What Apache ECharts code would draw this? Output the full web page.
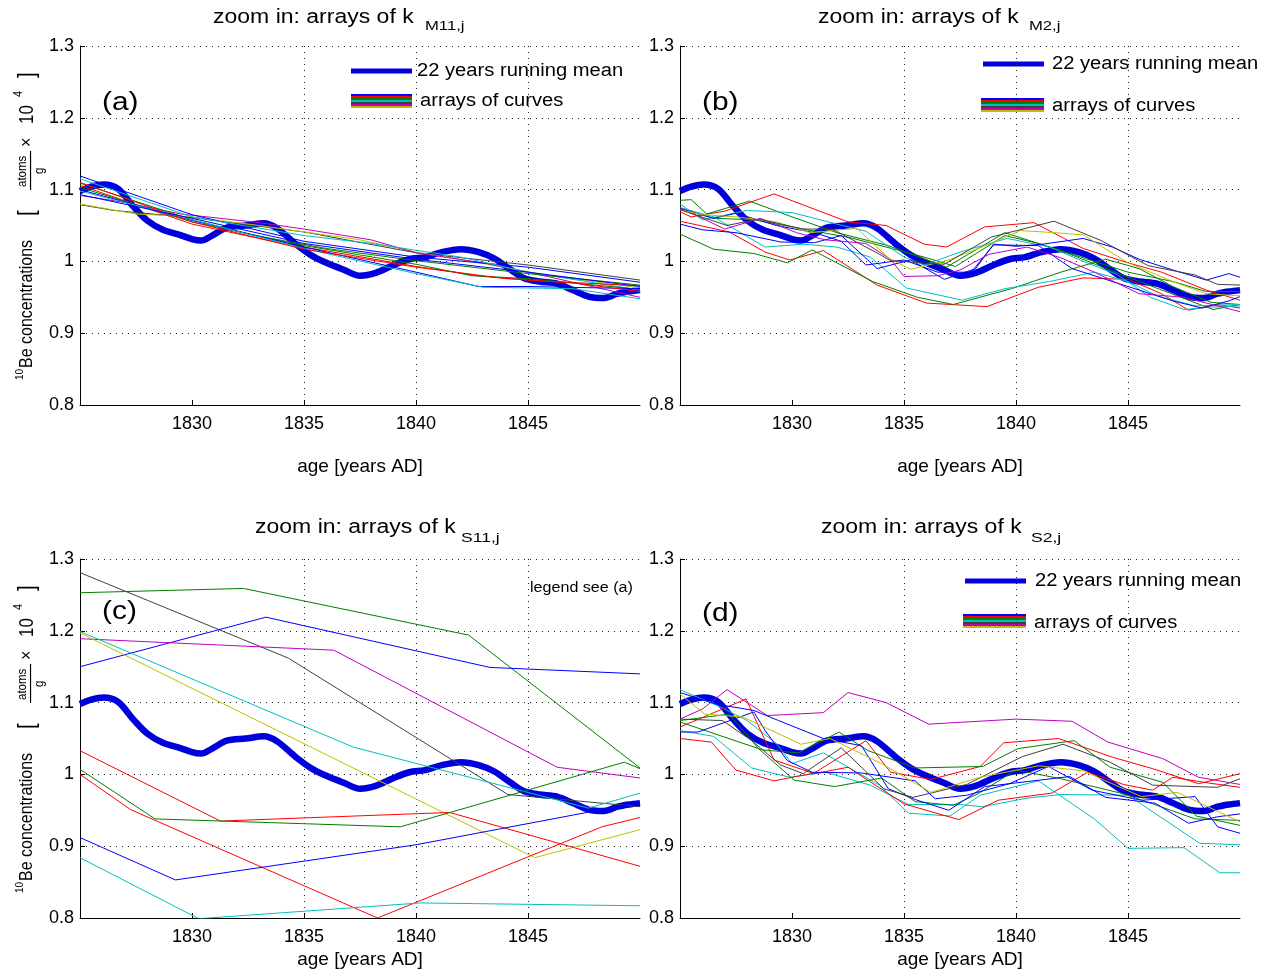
<!DOCTYPE html>
<html>
<head>
<meta charset="utf-8">
<script src="https://cdn.jsdelivr.net/npm/echarts@6/dist/echarts.min.js"></script>
<style>html,body{margin:0;padding:0;background:#fff;}#chart{width:1273px;height:977px;}</style>
</head>
<body>
<div id="chart"></div>
<script>
// ---------- tick labels ----------
const X_TICKS = [1830, 1835, 1840, 1845];
const Y_TICKS = [0.8, 0.9, 1.0, 1.1, 1.2, 1.3];

// ---------- 22 years running mean (same in all panels) ----------
const runningMean = [[1825.0,1.098],[1825.5,1.104],[1826.05,1.107],[1826.7,1.101],[1827.4,1.076],[1828.0,1.057],[1828.7,1.044],[1829.45,1.037],[1830.0,1.031],[1830.4,1.029],[1830.9,1.036],[1831.55,1.047],[1832.4,1.050],[1833.2,1.053],[1833.8,1.046],[1834.6,1.025],[1835.3,1.009],[1836.0,0.998],[1836.8,0.988],[1837.5,0.980],[1838.2,0.984],[1839.0,0.995],[1839.7,1.003],[1840.4,1.006],[1841.15,1.013],[1842.0,1.017],[1842.8,1.013],[1843.5,1.004],[1844.25,0.988],[1844.8,0.977],[1845.5,0.972],[1846.3,0.969],[1847.0,0.960],[1847.7,0.951],[1848.4,0.949],[1849.0,0.955],[1849.5,0.958],[1850.0,0.960]];

// ---------- panel (a): k_M11,j ----------
const aGray = [[1825,1.079],[1826.5,1.071],[1830,1.061],[1835,1.041],[1840,1.012],[1845,0.995],[1850,0.974]];
const aYellow = [[1825,1.080],[1827.5,1.066],[1830,1.062],[1833,1.050],[1837.5,1.030],[1840,1.013],[1843,0.997],[1846,0.980],[1850,0.963]];
const aMagenta = [[1825,1.092],[1827,1.082],[1829.5,1.066],[1833,1.054],[1835,1.045],[1838,1.030],[1840,1.012],[1843,0.998],[1846,0.978],[1850,0.950]];
const aBlue1 = [[1825,1.119],[1830,1.065],[1835,1.028],[1840,1.006],[1845,0.992],[1850,0.971]];
const aCyan1 = [[1825,1.115],[1830,1.062],[1835,1.036],[1838,1.025],[1842,1.006],[1845,0.985],[1850,0.960]];
const aGreen1 = [[1825,1.109],[1830,1.058],[1833,1.035],[1836,1.018],[1840,1.001],[1845,0.983],[1850,0.967]];
const aRed1 = [[1825,1.106],[1830,1.052],[1833.3,1.030],[1835,1.020],[1840,0.993],[1843,0.979],[1846,0.972],[1850,0.966]];
const aGreen2 = [[1825,1.103],[1830,1.055],[1835,1.022],[1840,0.996],[1842.5,0.980],[1845,0.976],[1850,0.961]];
const aBlue2 = [[1825,1.100],[1830,1.057],[1835,1.020],[1840,0.985],[1842.8,0.965],[1845,0.965],[1850,0.962]];
const aCyan2 = [[1825,1.098],[1830,1.058],[1835,1.018],[1840,0.983],[1843,0.964],[1847,0.962],[1850,0.948]];
const aRed2 = [[1825,1.110],[1830,1.055],[1835,1.017],[1840,0.992],[1844,0.976],[1847,0.970],[1850,0.958]];
const aBlue3 = [[1825,1.093],[1830,1.060],[1835,1.025],[1840,1.003],[1845,0.985],[1850,0.965]];

// ---------- panel (b): k_M2,j ----------
const bRed1 = [[1825,1.069],[1825.5,1.062],[1827,1.070],[1829.2,1.094],[1832.5,1.055],[1834.2,1.050],[1835.9,1.024],[1836.9,1.020],[1838.6,1.048],[1840.8,1.054],[1843,1.018],[1845,0.998],[1846.5,0.985],[1848.5,0.960],[1850,0.946]];
const bRed2 = [[1825,1.056],[1827.2,1.041],[1828.8,1.013],[1829.9,1.002],[1831.4,1.015],[1833.8,0.967],[1836,0.942],[1838.7,0.937],[1841,0.964],[1843,0.977],[1845,0.975],[1846.5,0.955],[1847.7,0.932],[1849,0.940],[1850,0.935]];
const bGreen1 = [[1825,1.085],[1825.5,1.086],[1826.2,1.066],[1828.1,1.084],[1830,1.062],[1832,1.040],[1834.3,1.022],[1836.9,0.992],[1839.5,1.040],[1842,1.015],[1845,0.978],[1848.8,0.933],[1850,0.940]];
const bGreen2 = [[1825,1.038],[1826.5,1.017],[1828.3,1.011],[1829.8,0.998],[1830.9,1.016],[1833.6,0.972],[1835.6,0.950],[1837.2,0.940],[1839.8,0.962],[1842,0.985],[1844,1.003],[1845.5,0.990],[1847,0.965],[1848.7,0.943],[1850,0.940]];
const bGreen3 = [[1825,1.073],[1826.5,1.060],[1828.3,1.058],[1830.5,1.045],[1832.6,1.033],[1834.2,1.020],[1835.9,1.006],[1837.3,0.993],[1839.5,1.036],[1841,1.025],[1843,1.005],[1845,0.985],[1847,0.972],[1848.5,0.958],[1850,0.958]];
const bCyan1 = [[1825,1.080],[1826,1.058],[1828,1.071],[1830,1.068],[1832,1.052],[1833.3,1.042],[1835,1.006],[1835.9,0.995],[1837.5,1.013],[1839.6,1.032],[1841.5,1.020],[1843,1.000],[1844.5,0.982],[1846,0.950],[1847.5,0.933],[1848.5,0.936],[1850,0.938]];
const bCyan2 = [[1825,1.075],[1826.5,1.062],[1828.8,1.020],[1830.5,1.024],[1832,1.020],[1833.5,1.006],[1835.1,0.963],[1837.6,0.946],[1839.5,0.962],[1841.5,0.972],[1843.5,0.985],[1845,0.972],[1846.3,0.952],[1848,0.938],[1850,0.940]];
const bBlue1 = [[1825,1.052],[1826,1.044],[1827.5,1.040],[1829.5,1.027],[1831,1.026],[1832.2,1.036],[1833.8,0.990],[1835.3,1.002],[1836.8,0.975],[1838.2,0.990],[1839,1.024],[1840,1.021],[1841.2,1.024],[1843,1.032],[1844.3,1.020],[1845.5,1.003],[1847,0.988],[1848.5,0.974],[1849.5,0.983],[1850,0.978]];
const bBlue2 = [[1825,1.074],[1826.5,1.060],[1827.5,1.067],[1829.3,1.050],[1831,1.040],[1832.2,1.028],[1833.3,0.995],[1835,1.002],[1836.5,0.985],[1838,0.985],[1839,1.023],[1841,1.022],[1842.5,0.990],[1844,0.975],[1845.5,0.960],[1847,0.945],[1848.3,0.935],[1849.5,0.945],[1850,0.951]];
const bMagenta = [[1825,1.075],[1827,1.045],[1828.6,1.060],[1830.2,1.040],[1831.5,1.030],[1833.3,1.025],[1834.4,1.003],[1835,0.979],[1836.5,0.980],[1837.5,0.988],[1838.8,1.010],[1840.5,1.020],[1842,1.005],[1843.5,0.985],[1845.5,0.955],[1847.5,0.950],[1850,0.930]];
const bYellow = [[1825,1.072],[1826,1.065],[1827.5,1.062],[1829.3,1.055],[1830.8,1.040],[1832.9,1.046],[1834.3,1.005],[1835.3,0.989],[1837,1.002],[1838.8,1.024],[1840.2,1.043],[1841.7,1.040],[1843,1.037],[1845,0.998],[1847,0.972],[1848.5,0.955],[1850,0.952]];
const bGray = [[1825,1.072],[1827.1,1.050],[1828.5,1.059],[1830.5,1.045],[1831.8,1.045],[1833.9,1.010],[1834.4,1.001],[1836.8,0.996],[1838.9,1.034],[1841.7,1.056],[1843.8,1.029],[1845.9,0.994],[1848,0.981],[1849,0.968],[1850,0.967]];

// ---------- panel (c): k_S11,j ----------
const cGray = [[1825,1.281],[1834.3,1.162],[1844.1,0.972],[1850,0.955]];
const cGreen1 = [[1825,1.253],[1832.3,1.259],[1842.35,1.194],[1850,1.009]];
const cBlue1 = [[1825,1.150],[1833.3,1.219],[1843.3,1.149],[1850,1.140]];
const cMagenta = [[1825,1.189],[1836.33,1.173],[1846.3,1.010],[1850,0.995]];
const cCyan1 = [[1825,1.199],[1837.2,1.038],[1847.7,0.953],[1850,0.974]];
const cYellow = [[1825,1.197],[1845.3,0.884],[1850,0.923]];
const cRed1 = [[1825,1.033],[1831.27,0.935],[1841.5,0.947],[1850,0.872]];
const cRed2 = [[1825,1.000],[1827.26,0.951],[1838.28,0.800],[1848.3,0.927],[1850,0.940]];
const cGreen2 = [[1825,1.007],[1828.35,0.938],[1839.3,0.927],[1849.3,1.017],[1850,1.008]];
const cBlue2 = [[1825,0.912],[1829.26,0.853],[1840,0.902],[1850,0.961]];
const cCyan2 = [[1825,0.884],[1830.3,0.799],[1840.2,0.821],[1850,0.817]];

// ---------- panel (d): k_S2,j ----------
const dMagenta = [[1825,1.077],[1826,1.091],[1827.1,1.118],[1828.9,1.082],[1831.4,1.086],[1832.5,1.114],[1834.2,1.100],[1836.1,1.070],[1840,1.077],[1842.5,1.074],[1844.1,1.045],[1846.55,1.022],[1848.15,0.996],[1850,0.986]];
const dCyan1 = [[1825,1.118],[1826.8,1.094],[1828,1.075],[1829.3,1.043],[1830,1.015],[1831.4,1.030],[1833.9,0.985],[1835.2,0.946],[1837.05,0.942],[1838.4,0.971],[1841,0.991],[1843.5,0.938],[1845,0.897],[1847.5,0.898],[1849.1,0.863],[1850,0.863]];
const dCyan2 = [[1825,1.061],[1826.5,1.053],[1828.2,1.009],[1829.9,0.996],[1831.5,1.003],[1833.5,0.985],[1835.2,0.958],[1837.5,0.958],[1838.5,0.955],[1840.5,0.967],[1842,0.972],[1845,0.971],[1848.2,0.904],[1850,0.902]];
const dRed1 = [[1825,1.050],[1826.4,1.045],[1827.5,1.006],[1829.2,0.991],[1831,1.002],[1833.3,1.047],[1834.4,1.003],[1836.2,0.993],[1838.4,1.011],[1839.45,1.044],[1841.9,1.050],[1844.3,1.024],[1846.1,1.008],[1848.15,0.987],[1850,1.001]];
const dRed2 = [[1825,1.066],[1827.95,1.105],[1829.2,1.020],[1831,1.001],[1832.5,1.010],[1835,0.959],[1837.45,0.937],[1839.2,0.964],[1841.6,0.974],[1843.2,1.003],[1844.8,0.986],[1846.1,0.978],[1847,0.996],[1848.6,0.988],[1850,0.982]];
const dGreen1 = [[1825,1.075],[1827.2,1.084],[1828.5,1.036],[1830.1,0.992],[1831.9,0.983],[1834,0.995],[1835.5,0.962],[1837.2,0.957],[1838.3,0.973],[1840,1.006],[1842,0.994],[1844.8,0.973],[1846.1,0.959],[1848,0.938],[1850,0.936]];
const dGreen2 = [[1825,1.073],[1827.55,1.046],[1828.7,1.034],[1830.3,1.030],[1832.1,1.059],[1833.4,1.033],[1835.5,1.009],[1838.5,1.011],[1840.1,1.036],[1842.6,1.047],[1844.2,1.010],[1846.55,0.989],[1848.05,0.942],[1850,0.929]];
const dBlue1 = [[1825,1.114],[1826.6,1.098],[1828.3,1.089],[1829.4,1.075],[1831.4,1.050],[1833.1,1.040],[1834.3,0.980],[1835.5,0.965],[1837,0.950],[1838.6,0.983],[1840.5,0.990],[1842.4,0.997],[1844,0.968],[1846.2,0.960],[1847.7,0.932],[1849,0.941],[1850,0.945]];
const dBlue2 = [[1825,1.059],[1825.8,1.059],[1828.3,1.087],[1828.8,1.061],[1829.8,1.019],[1830.9,1.003],[1833.1,1.002],[1835.5,0.991],[1836.4,0.966],[1837.8,0.971],[1839.7,0.987],[1841.45,1.011],[1843.4,0.978],[1845.6,0.964],[1848,0.969],[1849,0.927],[1850,0.918]];
const dGray = [[1825,1.077],[1826.9,1.075],[1828.2,1.047],[1829.5,1.013],[1830.5,1.001],[1832.2,1.037],[1834.1,0.980],[1835.4,0.968],[1837.8,0.986],[1840.3,1.025],[1842.1,1.042],[1844.2,1.017],[1846.1,0.985],[1849,0.982],[1850,0.994]];
const dYellow = [[1825,1.112],[1826.1,1.084],[1827.8,1.080],[1830.4,1.042],[1831.7,1.050],[1834,1.015],[1836.2,0.975],[1838.4,0.996],[1841,1.012],[1843,1.005],[1845.6,0.969],[1847.2,0.975],[1850,0.934]];

// ---------- colours ----------
const C = {b:'#0000ff', g:'#008000', r:'#ff0000', c:'#00bfbf', m:'#bf00bf', y:'#bfbf00', k:'#404040'};
const MEAN_COLOR = '#0000dd';
const FONT = 'Liberation Sans, Arial, sans-serif';

const panels = [
  {grid:{left:80, top:46, width:560, height:359}, nameGap:52, curves:[[aGray,'k'],[aYellow,'y'],[aMagenta,'m'],[aBlue1,'b'],[aCyan1,'c'],[aGreen1,'g'],[aRed1,'r'],[aGreen2,'g'],[aBlue2,'b'],[aCyan2,'c'],[aRed2,'r'],[aBlue3,'b']]},
  {grid:{left:680, top:46, width:560, height:359}, nameGap:52, curves:[[bRed1,'r'],[bRed2,'r'],[bGreen1,'g'],[bGreen2,'g'],[bGreen3,'g'],[bCyan1,'c'],[bCyan2,'c'],[bBlue1,'b'],[bBlue2,'b'],[bMagenta,'m'],[bYellow,'y'],[bGray,'k']]},
  {grid:{left:80, top:559, width:560, height:359}, nameGap:32, curves:[[cGray,'k'],[cGreen1,'g'],[cBlue1,'b'],[cMagenta,'m'],[cCyan1,'c'],[cYellow,'y'],[cRed1,'r'],[cRed2,'r'],[cGreen2,'g'],[cBlue2,'b'],[cCyan2,'c']]},
  {grid:{left:680, top:559, width:560, height:359}, nameGap:32, curves:[[dMagenta,'m'],[dCyan1,'c'],[dCyan2,'c'],[dRed1,'r'],[dRed2,'r'],[dGreen1,'g'],[dGreen2,'g'],[dBlue1,'b'],[dBlue2,'b'],[dGray,'k'],[dYellow,'y']]}
];

const grids = [], xAxes = [], yAxes = [], series = [];
const dotted = [1, 5];
panels.forEach((p, i) => {
  grids.push(p.grid);
  xAxes.push({
    gridIndex:i, type:'value', min:1825, max:1850, interval:5,
    axisLine:{show:true, onZero:false, lineStyle:{color:'#000', width:1}},
    axisTick:{show:true, inside:true, length:5, lineStyle:{color:'#000'}, customValues:X_TICKS},
    axisLabel:{customValues:X_TICKS, fontSize:18, color:'#000', fontFamily:FONT, margin:10,
      formatter:v => String(Math.round(v))},
    splitLine:{show:true, lineStyle:{color:['rgba(0,0,0,0)','#222','#222','#222','#222','rgba(0,0,0,0)'], type:dotted, width:1}},
    name:'age [years AD]', nameLocation:'middle', nameGap:p.nameGap,
    nameTextStyle:{fontSize:19, color:'#000', fontFamily:FONT}
  });
  yAxes.push({
    gridIndex:i, type:'value', min:0.8, max:1.3, interval:0.1,
    axisLine:{show:true, onZero:false, lineStyle:{color:'#000', width:1}},
    axisTick:{show:true, inside:true, length:5, lineStyle:{color:'#000'}, customValues:Y_TICKS},
    axisLabel:{customValues:Y_TICKS, fontSize:18, color:'#000', fontFamily:FONT, margin:6,
      formatter:v => String(Math.round(v*10)/10)},
    splitLine:{show:true, lineStyle:{color:'#222', type:dotted, width:1}}
  });
  series.push({type:'line', xAxisIndex:i, yAxisIndex:i, data:runningMean, smooth:0.3,
    showSymbol:false, symbol:'none', lineStyle:{color:MEAN_COLOR, width:6.5}, clip:true, silent:true});
  p.curves.forEach(([d, c]) => {
    series.push({type:'line', xAxisIndex:i, yAxisIndex:i, data:d, showSymbol:false, symbol:'none',
      lineStyle:{color:C[c], width:1}, clip:true, silent:true});
  });
});

// ---------- annotations ----------
function txt(x, y, text, size, sx, align) {
  return {type:'text', x:x, y:y, scaleX:sx||1, silent:true,
    style:{text:text, fontSize:size, fontFamily:FONT, fill:'#000',
      textAlign:align||'left', textVerticalAlign:'middle', align:align||'left', verticalAlign:'middle'}};
}
function meanSample(x, y, w) {
  return {type:'line', silent:true, shape:{x1:x, y1:y, x2:x+w, y2:y}, style:{stroke:MEAN_COLOR, lineWidth:5}};
}
const STRIPES = ['b','r','g','c','k','m','y'];
function stripes(x, y, w) {
  return {type:'group', silent:true, children:STRIPES.map((c, k) => ({type:'rect', shape:{x:x, y:y + 2*k, width:w, height:2}, style:{fill:C[c]}}))};
}
function yLabel(x0, y0) {
  const t = (x, y, text, size) => ({type:'text', x:x, y:y, style:{text:text, fontSize:size, fontFamily:FONT, fill:'#000', textAlign:'left', textVerticalAlign:'middle', align:'left', verticalAlign:'middle'}});
  return {type:'group', x:x0, y:y0, rotation:Math.PI/2, scaleY:1.18, silent:true, children:[
    t(0, -6, '10', 10),
    t(12, 0, 'Be concentrations', 16),
    t(164, 0, '[', 20),
    {type:'line', shape:{x1:190, y1:3, x2:229, y2:3}, style:{stroke:'#000', lineWidth:1}},
    t(193, -4, 'atoms', 11.5),
    t(206, 10.5, 'g', 11.5),
    t(233, 0, '×', 16),
    t(256, 0, '10', 17),
    t(283, -7, '4', 11),
    t(302, 0, ']', 20)
  ]};
}

const graphics = [
  // titles
  txt(213, 17, 'zoom in: arrays of k', 20, 1.15), txt(425, 26, 'M11,j', 13, 1.28),
  txt(818, 17, 'zoom in: arrays of k', 20, 1.15), txt(1029, 26, 'M2,j', 13, 1.28),
  txt(255, 527, 'zoom in: arrays of k', 20, 1.15), txt(461, 538, 'S11,j', 13, 1.35),
  txt(821, 527, 'zoom in: arrays of k', 20, 1.15), txt(1031, 538, 'S2,j', 13, 1.35),
  // panel letters
  txt(102, 103, '(a)', 26, 1.15), txt(702, 103, '(b)', 26, 1.15),
  txt(102, 612, '(c)', 26, 1.15), txt(702, 614, '(d)', 26, 1.15),
  // legends
  meanSample(351, 71, 61), txt(417, 71, '22 years running mean', 18, 1.12),
  stripes(351, 94, 61), txt(420, 101, 'arrays of curves', 18, 1.12),
  meanSample(983, 64, 61), txt(1052, 64, '22 years running mean', 18, 1.12),
  stripes(981, 98, 63), txt(1052, 106, 'arrays of curves', 18, 1.12),
  meanSample(965, 581, 61), txt(1035, 581, '22 years running mean', 18, 1.12),
  stripes(963, 614, 63), txt(1034, 623, 'arrays of curves', 18, 1.12),
  txt(530, 588, 'legend see (a)', 14, 1.15),
  // y-axis names
  yLabel(27, 380), yLabel(27, 893)
];

const chart = echarts.init(document.getElementById('chart'), null, {renderer:'canvas'});
chart.setOption({
  animation:false, backgroundColor:'#fff',
  grid:grids, xAxis:xAxes, yAxis:yAxes, series:series, graphic:{elements:graphics}
});
</script>
</body>
</html>
